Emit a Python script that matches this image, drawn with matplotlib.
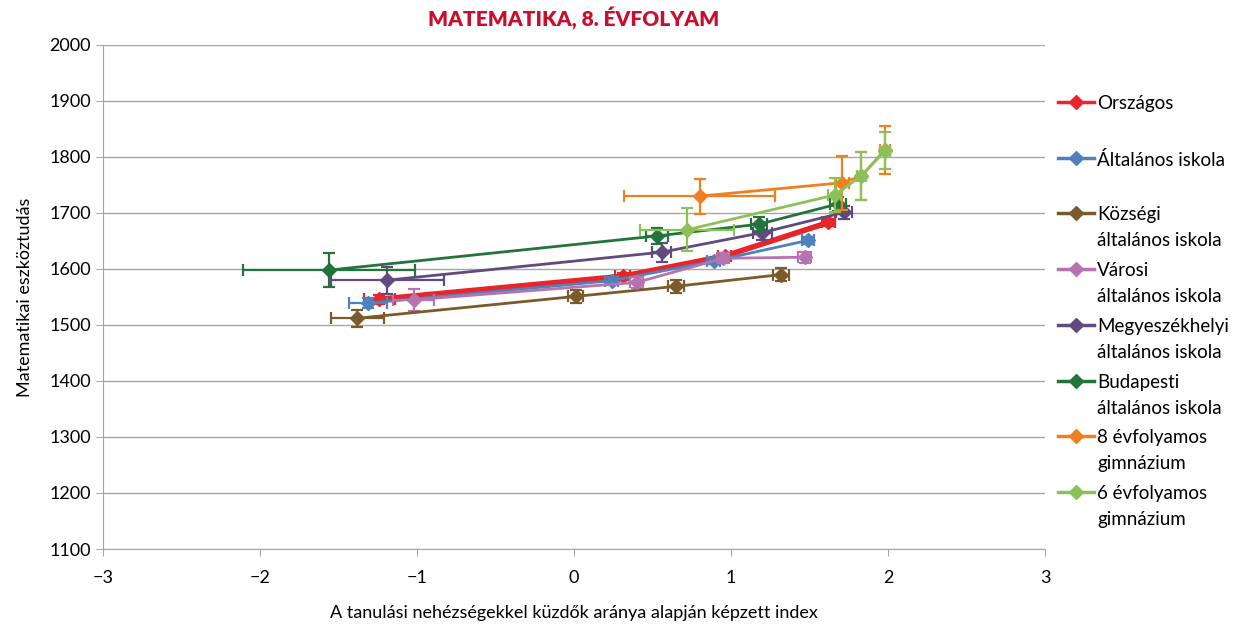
import matplotlib
matplotlib.use("Agg")
import matplotlib.pyplot as plt
from matplotlib.lines import Line2D

plt.rcParams["font.family"] = ["Lato", "DejaVu Sans"]

# --- data ---
series_names = [
    "Országos",
    "Általános iskola",
    "Községi\náltalános iskola",
    "Városi\náltalános iskola",
    "Megyeszékhelyi\náltalános iskola",
    "Budapesti\náltalános iskola",
    "8 évfolyamos\ngimnázium",
    "6 évfolyamos\ngimnázium",
]
series_colors = ["#E8262A", "#4F81BD", "#7B5A2B", "#B673B0",
                 "#5F4B80", "#23743A", "#F07F22", "#8CC157"]

x_orszagos = [-1.24, 0.31, 0.96, 1.62]
y_orszagos = [1546, 1587, 1623, 1683]
xe_orszagos = [0.10, 0.05, 0.04, 0.04]
ye_orszagos = [8, 6, 5, 6]

x_altalanos = [-1.31, 0.24, 0.89, 1.49]
y_altalanos = [1539, 1579, 1614, 1651]
xe_altalanos = [0.12, 0.04, 0.04, 0.04]
ye_altalanos = [9, 6, 5, 6]

x_kozsegi = [-1.38, 0.01, 0.65, 1.32]
y_kozsegi = [1512, 1551, 1569, 1590]
xe_kozsegi = [0.17, 0.05, 0.05, 0.05]
ye_kozsegi = [15, 12, 12, 12]

x_varosi = [-1.02, 0.40, 0.95, 1.47]
y_varosi = [1545, 1576, 1619, 1621]
xe_varosi = [0.13, 0.04, 0.04, 0.04]
ye_varosi = [20, 10, 9, 10]

x_megye = [-1.19, 0.56, 1.20, 1.72]
y_megye = [1580, 1630, 1665, 1701]
xe_megye = [0.36, 0.06, 0.06, 0.05]
ye_megye = [24, 17, 13, 12]

x_budapest = [-1.56, 0.53, 1.18, 1.68]
y_budapest = [1598, 1659, 1680, 1716]
xe_budapest = [0.55, 0.07, 0.05, 0.05]
ye_budapest = [30, 15, 12, 13]

x_gimn8 = [0.80, 1.71, 1.83, 1.98]
y_gimn8 = [1730, 1754, 1766, 1812]
xe_gimn8 = [0.48, 0.04, 0.03, 0.03]
ye_gimn8 = [31, 48, 42, 43]

x_gimn6 = [0.72, 1.66, 1.83, 1.98]
y_gimn6 = [1670, 1732, 1766, 1811]
xe_gimn6 = [0.30, 0.04, 0.03, 0.03]
ye_gimn6 = [38, 30, 42, 33]

all_x = [x_orszagos, x_altalanos, x_kozsegi, x_varosi, x_megye, x_budapest, x_gimn8, x_gimn6]
all_y = [y_orszagos, y_altalanos, y_kozsegi, y_varosi, y_megye, y_budapest, y_gimn8, y_gimn6]
all_xe = [xe_orszagos, xe_altalanos, xe_kozsegi, xe_varosi, xe_megye, xe_budapest, xe_gimn8, xe_gimn6]
all_ye = [ye_orszagos, ye_altalanos, ye_kozsegi, ye_varosi, ye_megye, ye_budapest, ye_gimn8, ye_gimn6]

fig = plt.figure(figsize=(12.44, 6.33), dpi=100)
ax = fig.add_axes([0.0828, 0.1327, 0.7572, 0.7963])

grid_color = "#A6A6A6"
for i, name in enumerate(series_names):
    lw = 4 if i == 0 else 2
    ax.errorbar(all_x[i], all_y[i], xerr=all_xe[i], yerr=all_ye[i],
                color=series_colors[i], lw=lw, marker="D", ms=7,
                elinewidth=1.6, capsize=4, capthick=1.6, zorder=3 + i * 0.1)

ax.set_xlim(-3, 3)
ax.set_ylim(1100, 2000)
ax.set_xticks(range(-3, 4))
ax.set_xticklabels(["\u22123", "\u22122", "\u22121", "0", "1", "2", "3"])
ax.set_yticks(range(1100, 2001, 100))
ax.yaxis.grid(True, color=grid_color, lw=1)
ax.set_axisbelow(True)
for side in ["top", "right"]:
    ax.spines[side].set_visible(False)
for side in ["left", "bottom"]:
    ax.spines[side].set_color(grid_color)
ax.tick_params(axis="both", colors=grid_color, labelcolor="black",
               labelsize=13, length=5, direction="out")
ax.tick_params(axis="x", pad=10)

ax.set_xlabel("A tanulási nehézségekkel küzdők aránya alapján képzett index",
              fontsize=13, labelpad=14)
ax.set_ylabel("Matematikai eszköztudás", fontsize=13, labelpad=12)

fig.text(0.4614, 0.971, "MATEMATIKA, 8. ÉVFOLYAM", ha="center", va="center",
         color="#C8102E", fontsize=15, fontweight="heavy")

# legend drawn by hand so the handle lines up with the first text line
leg_x0, leg_x1, text_x = 1058 / 1244, 1094 / 1244, 1097 / 1244
leg_top = 1 - 102 / 633
leg_step = 55.7 / 633
for i, name in enumerate(series_names):
    yy = leg_top - i * leg_step
    fig.add_artist(Line2D([leg_x0, leg_x1], [yy, yy], color=series_colors[i], lw=2.5))
    fig.add_artist(Line2D([(leg_x0 + leg_x1) / 2], [yy], color=series_colors[i],
                          marker="D", ms=7))
    fig.text(text_x, yy + 7 / 633, name, ha="left", va="top", fontsize=13.5,
             linespacing=1.65, transform=fig.transFigure)

fig.savefig("out.png", dpi=100)
